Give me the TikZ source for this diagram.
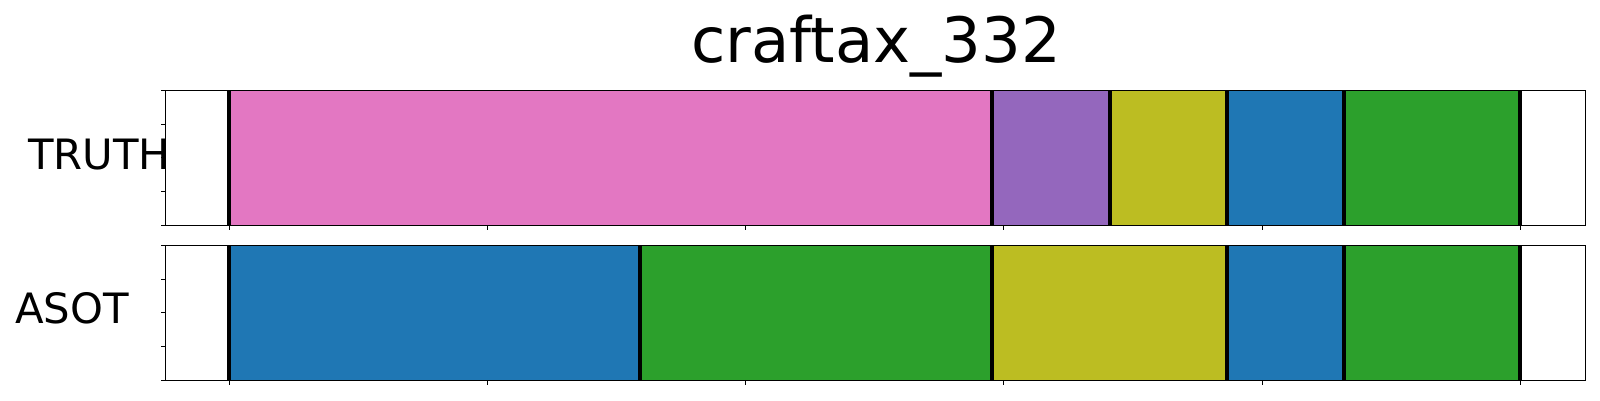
\documentclass[tikz,border=0pt]{standalone}
\usepackage{fontspec}
\setmainfont{DejaVu Sans}
\definecolor{tpink}{HTML}{E377C2}
\definecolor{tpurple}{HTML}{9467BD}
\definecolor{tolive}{HTML}{BCBD22}
\definecolor{tblue}{HTML}{1F77B4}
\definecolor{tgreen}{HTML}{2CA02C}
\begin{document}
\begin{tikzpicture}[x=1pt,y=-1pt,
  lbl/.style={inner sep=0pt,anchor=base west,font=\fontsize{41.8}{50}\selectfont},
  ttl/.style={inner sep=0pt,anchor=base,font=\fontsize{62.5}{75}\selectfont},
  bound/.style={line width=4.2pt,black},
  frame/.style={line width=1.3pt,black},
  tick/.style={line width=1pt,black}]
\useasboundingbox (0,0) rectangle (1600,400);
% top row fills (truth)
\fill[tpink]   (229,90.3) rectangle (992,225.3);
\fill[tpurple] (992,90.3) rectangle (1110,225.3);
\fill[tolive]  (1110,90.3) rectangle (1227,225.3);
\fill[tblue]   (1227,90.3) rectangle (1344,225.3);
\fill[tgreen]  (1344,90.3) rectangle (1520,225.3);
% bottom row fills (asot)
\fill[tblue]   (229,245.3) rectangle (640,380.3);
\fill[tgreen]  (640,245.3) rectangle (992,380.3);
\fill[tolive]  (992,245.3) rectangle (1227,380.3);
\fill[tblue]   (1227,245.3) rectangle (1344,380.3);
\fill[tgreen]  (1344,245.3) rectangle (1520,380.3);
% boundary lines
\foreach \x in {229,992,1110,1227,1344,1520} \draw[bound] (\x,90.3) -- (\x,225.3);
\foreach \x in {229,640,992,1227,1344,1520} \draw[bound] (\x,245.3) -- (\x,380.3);
% frames
\draw[frame] (165.7,90.3) rectangle (1585.7,225.3);
\draw[frame] (165.7,245.3) rectangle (1585.7,380.3);
% ticks
\foreach \k in {0,...,5} {
  \draw[tick] ({229+258.3*\k},225.3) -- ++(0,5);
  \draw[tick] ({229+258.3*\k},380.3) -- ++(0,5);
}
\foreach \k in {0,...,4} {
  \draw[tick] (165.7,{90.3+33.75*\k}) -- ++(-5,0);
  \draw[tick] (165.7,{245.3+33.75*\k}) -- ++(-5,0);
}
% texts
\node[ttl] (title) at (876,62) {craftax\_332};
\node[lbl] (truth) at (28,169) {TRUTH};
\node[lbl] (asot) at (15,323) {ASOT};
\end{tikzpicture}
\end{document}
